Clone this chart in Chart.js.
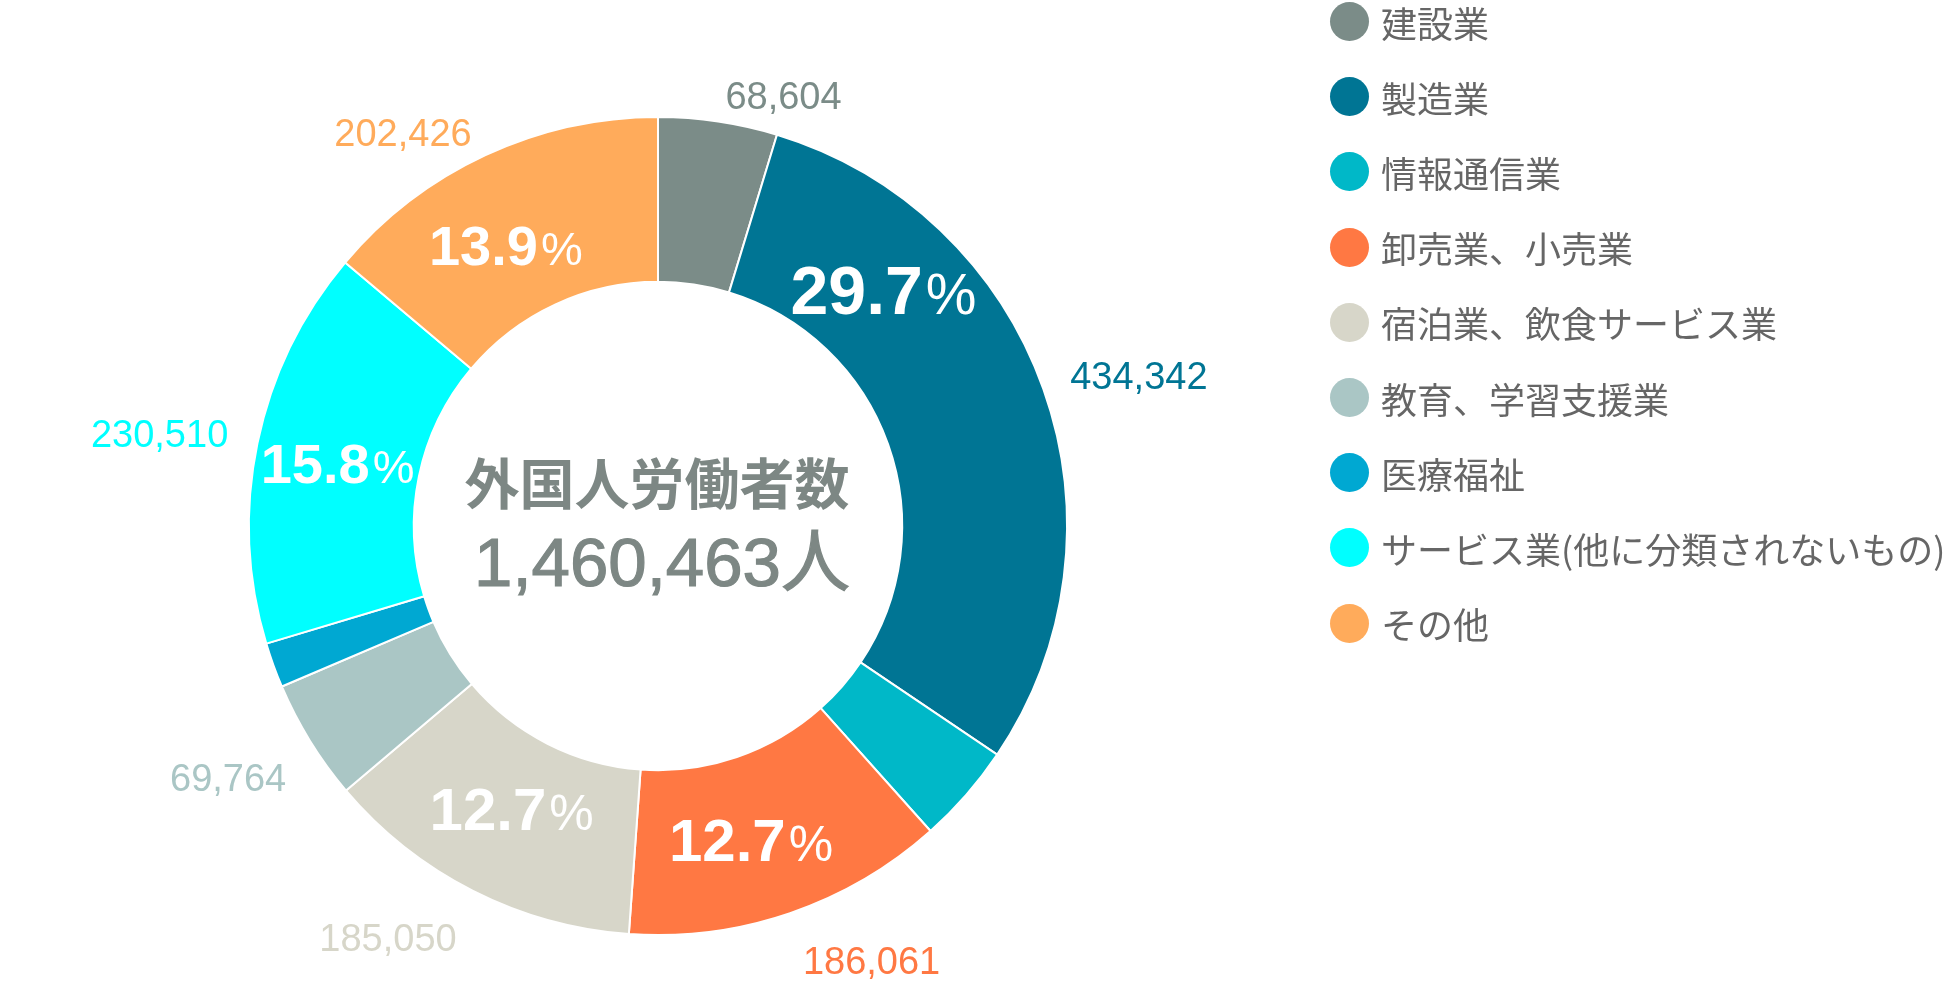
<!DOCTYPE html>
<html lang="ja">
<head>
<meta charset="utf-8">
<title>外国人労働者数</title>
<script src="https://cdn.jsdelivr.net/npm/chart.js@4"></script>
<style>
  html, body { margin: 0; padding: 0; background: #ffffff; }
  body { width: 1950px; height: 1000px; position: relative; overflow: hidden; }
  #chartBox { position: absolute; left: 0; top: 0; width: 1316px; height: 1000px; }
  #legend { position: absolute; left: 0; top: 0; width: 1950px; height: 1000px; pointer-events: none; }
  .item { position: absolute; left: 1330px; height: 40px; display: flex; align-items: center; white-space: nowrap; }
  .dot { width: 39px; height: 39px; border-radius: 50%; flex: none; }
  .txt { margin-left: 12px; font-family: "Noto Sans CJK JP", sans-serif; font-size: 36px; line-height: 40px; color: #666666; position: relative; top: 0px; }
</style>
</head>
<body>
<div id="chartBox"><canvas id="c"></canvas></div>
<div id="legend"></div>
<script>
// ---- data ----
const categories = ["建設業", "製造業", "情報通信業", "卸売業、小売業", "宿泊業、飲食サービス業", "教育、学習支援業", "医療福祉", "サービス業(他に分類されないもの)", "その他"];
const workers = [68604, 434342, 57800, 186061, 185050, 69764, 25906, 230510, 202426];
const sliceColors = ["#7b8c88", "#007594", "#00b8c8", "#ff7843", "#d7d6c9", "#aac6c5", "#00a8d2", "#00ffff", "#ffab5b"];
const centerTitle = "外国人労働者数";
const centerUnit = "人";

// ---- label layout (not data) ----
// inside percentage labels: f = fraction along slice angle, size = font px
const insideLayout = [null, {f: 0.25, size: 68}, null, {f: 0.55, size: 60}, {f: 0.51, size: 60, dr: -8}, null, null, {f: 0.49, size: 56}, {f: 0.43, size: 56, dr: -7}];
// outside value labels: f = fraction along slice angle, d = distance beyond outer edge
const outsideLayout = [{f: 0.96, d: 40}, {f: 0.52, d: 95}, null, {f: 0.34, d: 75}, {f: 0.64, d: 83}, {f: 0.58, d: 89}, null, {f: 0.48, d: 98}, {f: 0.34, d: 60}];

const total = workers.reduce((a, b) => a + b, 0);
const numFont = '"Liberation Sans", Arial, Helvetica, sans-serif';

const sliceLabels = {
  id: 'sliceLabels',
  afterDatasetsDraw(chart) {
    const ctx = chart.ctx;
    const meta = chart.getDatasetMeta(0);
    ctx.save();
    meta.data.forEach((arc, i) => {
      const p = arc.getProps(['x', 'y', 'startAngle', 'endAngle', 'innerRadius', 'outerRadius'], true);
      const span = p.endAngle - p.startAngle;
      const inn = insideLayout[i];
      if (inn) {
        const a = p.startAngle + span * inn.f;
        const r = (p.innerRadius + p.outerRadius) / 2 + (inn.dr || 0);
        const cx = p.x + r * Math.cos(a);
        const cy = p.y + r * Math.sin(a);
        const num = (workers[i] / total * 100).toFixed(1);
        const pctSize = Math.round(inn.size * 0.84);
        ctx.font = 'bold ' + inn.size + 'px ' + numFont;
        const w1 = ctx.measureText(num).width;
        ctx.font = pctSize + 'px ' + numFont;
        const w2 = ctx.measureText('%').width;
        const gap = 3;
        const left = cx - (w1 + gap + w2) / 2;
        const base = cy + inn.size * 0.358;
        ctx.fillStyle = '#ffffff';
        ctx.textAlign = 'left';
        ctx.textBaseline = 'alphabetic';
        ctx.font = 'bold ' + inn.size + 'px ' + numFont;
        ctx.fillText(num, left, base);
        ctx.font = pctSize + 'px ' + numFont;
        ctx.fillText('%', left + w1 + gap, base);
      }
      const out = outsideLayout[i];
      if (out) {
        const a = p.startAngle + span * out.f;
        const r = p.outerRadius + out.d;
        const cx = p.x + r * Math.cos(a);
        const cy = p.y + r * Math.sin(a);
        const size = 38;
        ctx.font = size + 'px ' + numFont;
        ctx.fillStyle = sliceColors[i];
        ctx.textAlign = 'center';
        ctx.textBaseline = 'alphabetic';
        ctx.fillText(workers[i].toLocaleString('en-US'), cx, cy + size * 0.358);
      }
    });
    // center text
    const cx = (chart.chartArea.left + chart.chartArea.right) / 2;
    const cy = (chart.chartArea.top + chart.chartArea.bottom) / 2;
    ctx.fillStyle = '#7d8784';
    ctx.strokeStyle = '#7d8784';
    ctx.textAlign = 'center';
    ctx.textBaseline = 'middle';
    ctx.font = 'bold 55px "Noto Sans CJK JP", sans-serif';
    ctx.fillText(centerTitle, cx - 1, cy - 43);
    ctx.textBaseline = 'alphabetic';
    ctx.font = '69px "Liberation Sans", "Noto Sans CJK JP", sans-serif';
    ctx.lineWidth = 1.2;
    const totalText = total.toLocaleString('en-US') + centerUnit;
    ctx.fillText(totalText, cx + 4, cy + 60);
    ctx.strokeText(totalText, cx + 4, cy + 60);
    ctx.restore();
  }
};

new Chart(document.getElementById('c'), {
  type: 'doughnut',
  data: {
    labels: categories,
    datasets: [{
      data: workers,
      backgroundColor: sliceColors,
      borderColor: '#ffffff',
      borderWidth: 2,
      hoverOffset: 0
    }]
  },
  options: {
    responsive: true,
    maintainAspectRatio: false,
    animation: false,
    cutout: '59.7%',
    layout: { padding: { top: 116, bottom: 64, left: 0, right: 0 } },
    plugins: {
      legend: { display: false },
      tooltip: { enabled: false }
    }
  },
  plugins: [sliceLabels]
});

// HTML legend built from the same arrays
const legendEl = document.getElementById('legend');
categories.forEach((name, i) => {
  const item = document.createElement('div');
  item.className = 'item';
  item.style.top = (1.5 + i * 75.2) + 'px';
  const dot = document.createElement('span');
  dot.className = 'dot';
  dot.style.background = sliceColors[i];
  const txt = document.createElement('span');
  txt.className = 'txt';
  txt.textContent = name;
  item.appendChild(dot);
  item.appendChild(txt);
  legendEl.appendChild(item);
});
</script>
</body>
</html>
